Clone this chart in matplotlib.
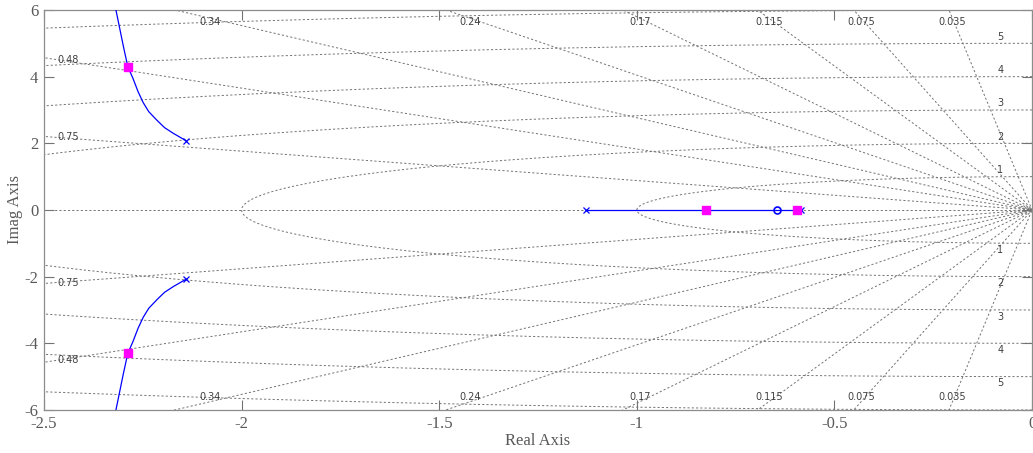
import numpy as np
import matplotlib.pyplot as plt

# damping ratios and natural frequencies of the s-plane grid
zeta = [0.035, 0.075, 0.115, 0.17, 0.24, 0.34, 0.48, 0.75]
zeta_edge_top = [0.035, 0.075, 0.115, 0.17, 0.24, 0.34]
zeta_edge_left = [0.48, 0.75]
wn = [1, 2, 3, 4, 5, 6]
wn_labels = [1, 2, 3, 4, 5]

# open-loop poles / zeros
pole_re = [-2.141, -2.141, -1.129, -0.585]
pole_im = [2.08, -2.08, 0.0, 0.0]
zero_re = [-0.645]
zero_im = [0.0]

# root locus branches
branch_re = [-2.141, -2.173, -2.195, -2.215, -2.235, -2.249, -2.262, -2.275, -2.288, -2.299, -2.318, -2.33]
branch_im = [2.08, 2.30, 2.47, 2.70, 2.95, 3.22, 3.55, 3.95, 4.30, 4.90, 6.00, 6.6]
real_branch_re = [-1.129, -0.585]

# selected closed-loop poles
sel_re = [-2.288, -2.288, -0.825, -0.595]
sel_im = [4.30, -4.30, 0.0, 0.0]

plt.rcParams['font.family'] = ['Liberation Serif', 'DejaVu Serif']

fig = plt.figure(figsize=(10.33, 4.53), dpi=100)
ax = fig.add_axes([0.0426, 0.095, 0.9565, 0.883])

grid_kw = dict(color='0.45', lw=0.7, ls=(0, (2.2, 2.2)), zorder=1)
lab_kw = dict(fontsize=7, color='0.25', family='DejaVu Sans', ha='center', va='center', zorder=2)

# damping lines
xs = np.array([-10.0, 0.0])
for z in zeta:
    k = np.sqrt(1 - z ** 2) / z
    ax.plot(xs, -k * xs, **grid_kw)
    ax.plot(xs, k * xs, **grid_kw)
ax.plot(xs, [0, 0], **grid_kw)

for z in zeta_edge_top:
    k = z / np.sqrt(1 - z ** 2)
    x = -5.75 * k
    ax.text(x, 5.63, f'{z:g}', **lab_kw)
    ax.text(x, -5.6, f'{z:g}', **lab_kw)
for z in zeta_edge_left:
    k = np.sqrt(1 - z ** 2) / z
    y = 2.44 * k + 0.05
    ax.text(-2.44, y, f'{z:g}', **lab_kw)
    ax.text(-2.44, -y, f'{z:g}', **lab_kw)

# natural frequency circles (left half plane)
t = np.linspace(np.pi / 2, 3 * np.pi / 2, 400)
for r in wn:
    ax.plot(r * np.cos(t), r * np.sin(t), **grid_kw)
for r in wn_labels:
    ax.text(-0.08, r + 0.2, str(r), **lab_kw)
    ax.text(-0.08, -r - 0.2, str(r), **lab_kw)

# locus
blue = '#0000ff'
ax.plot(branch_re, branch_im, color=blue, lw=0.9, zorder=3)
ax.plot(branch_re, [-v for v in branch_im], color=blue, lw=0.9, zorder=3)
ax.plot(real_branch_re, [0, 0], color=blue, lw=0.9, zorder=3)
ax.plot(pole_re, pole_im, 'x', color=blue, ms=5, mew=0.9, zorder=4)
ax.plot(zero_re, zero_im, 'o', color=blue, mfc='none', ms=5, mew=1.2, zorder=4)
ax.plot(sel_re, sel_im, 's', color='#ff00ff', ms=6, zorder=5)

ax.set_xlim(-2.5, 0)
ax.set_ylim(-6, 6)
ax.set_xticks([-2.5, -2, -1.5, -1, -0.5, 0])
ax.set_xticklabels(['-2.5', '-2', '-1.5', '-1', '-0.5', '0'])
ax.set_yticks([-6, -4, -2, 0, 2, 4, 6])
ax.set_yticklabels(['-6', '-4', '-2', '0', '2', '4', '6'])
ax.tick_params(direction='in', length=7, width=0.8, color='0.45', labelcolor='0.35',
               labelsize=12, top=True, right=True, pad=4)
for s in ax.spines.values():
    s.set_color('0.55')
    s.set_linewidth(0.9)

ax.set_xlabel('Real Axis', fontsize=12, color='0.35', labelpad=1)
ax.set_ylabel('Imag Axis', fontsize=12, color='0.35', labelpad=1)

fig.savefig('out.png', dpi=100)
